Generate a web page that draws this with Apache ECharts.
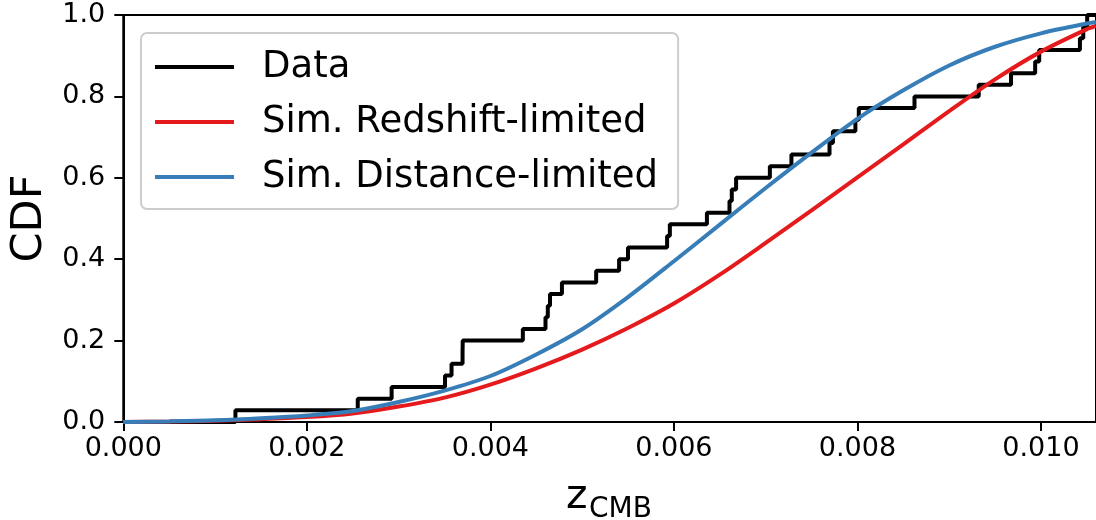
<!DOCTYPE html>
<html>
<head>
<meta charset="utf-8">
<script src="https://cdn.jsdelivr.net/npm/echarts@6/dist/echarts.min.js"></script>
<style>
  html, body { margin: 0; padding: 0; background: #fff; }
  #chart { width: 1096px; height: 520px; }
</style>
</head>
<body>
<div id="chart"></div>
<script>
// Observed redshifts (sorted), one step of 1/N each in the empirical CDF
const dataZ = [
  0.001222, 0.002555, 0.002924, 0.003506, 0.003577, 0.003697, 0.003699,
  0.004354, 0.004601, 0.004626, 0.004650, 0.004780, 0.005153, 0.005403,
  0.005500, 0.005926, 0.005956, 0.006360, 0.006606, 0.006631, 0.006678,
  0.007046, 0.007281, 0.007696, 0.007733, 0.007978, 0.008015, 0.008622,
  0.009322, 0.009674, 0.009937, 0.009981, 0.010425, 0.010461, 0.010504
];

// Simulated CDFs sampled on a common redshift grid
const simZ = [
  0, 0.0005, 0.001, 0.0015, 0.002, 0.0025, 0.003, 0.0035, 0.004, 0.0045,
  0.005, 0.0055, 0.006, 0.0065, 0.007, 0.0075, 0.008, 0.0085, 0.009,
  0.0095, 0.010, 0.0105, 0.0106
];
const simRedshift = [
  0, 0.001, 0.003, 0.007, 0.012, 0.021, 0.038, 0.060, 0.092, 0.132,
  0.178, 0.231, 0.291, 0.362, 0.440, 0.520, 0.601, 0.682, 0.764,
  0.842, 0.910, 0.965, 0.973
];
const simDistance = [
  0, 0.0015, 0.004, 0.009, 0.016, 0.027, 0.049, 0.077, 0.113, 0.166,
  0.228, 0.307, 0.395, 0.485, 0.575, 0.662, 0.745, 0.815, 0.876,
  0.922, 0.955, 0.979, 0.982
];

const xTicks = [0, 0.002, 0.004, 0.006, 0.008, 0.010];
const yTicks = [0, 0.2, 0.4, 0.6, 0.8, 1.0];
const X_MAX = 0.0106;

const FONT = 'DejaVu Sans';
const COLORS = { data: '#000000', red: '#e41a1c', blue: '#377eb8' };

// Empirical CDF as step points
const n = dataZ.length;
const ecdf = [[0, 0]];
dataZ.forEach((z, i) => ecdf.push([z, (i + 1) / n]));
ecdf.push([X_MAX, 1]);

const pairs = (xs, ys) => xs.map((x, i) => [x, ys[i]]);

const chart = echarts.init(document.getElementById('chart'), null, { renderer: 'canvas' });

const isTick = (v, list) => list.some(t => Math.abs(t - v) < 1e-9);

chart.setOption({
  animation: false,
  backgroundColor: '#ffffff',
  grid: {
    left: 123.3,
    top: 15,
    width: X_MAX * 92250,
    height: 407,
    show: true,
    borderColor: '#000',
    borderWidth: 2,
    containLabel: false
  },
  legend: {
    left: 141,
    top: 33,
    orient: 'vertical',
    icon: 'rect',
    itemWidth: 79,
    itemHeight: 4,
    itemGap: 15,
    padding: [14, 20, 12, 14],
    backgroundColor: 'rgba(255,255,255,0.85)',
    borderColor: '#cccccc',
    borderWidth: 2,
    borderRadius: 6,
    textStyle: {
      fontFamily: FONT,
      fontSize: 37,
      lineHeight: 40,
      color: '#000',
      padding: [0, 0, 0, 23]
    },
    data: ['Data', 'Sim. Redshift-limited', 'Sim. Distance-limited']
  },
  xAxis: {
    type: 'value',
    min: 0,
    max: X_MAX,
    interval: 0.002,
    splitLine: { show: false },
    axisLine: { show: true, lineStyle: { color: '#000', width: 2 } },
    axisTick: { show: true, length: 9, lineStyle: { color: '#000', width: 2 } },
    axisLabel: {
      show: true,
      margin: 13,
      fontFamily: FONT,
      fontSize: 27,
      color: '#000',
      showMaxLabel: false,
      formatter: v => isTick(v, xTicks) ? v.toFixed(3) : ''
    }
  },
  yAxis: {
    type: 'value',
    min: 0,
    max: 1,
    interval: 0.2,
    name: 'CDF',
    nameLocation: 'middle',
    nameGap: 70,
    nameTextStyle: { fontFamily: FONT, fontSize: 43, color: '#000' },
    splitLine: { show: false },
    axisLine: { show: true, lineStyle: { color: '#000', width: 2 } },
    axisTick: { show: true, length: 9, lineStyle: { color: '#000', width: 2 } },
    axisLabel: {
      margin: 18,
      fontFamily: FONT,
      fontSize: 27,
      color: '#000',
      formatter: v => isTick(v, yTicks) ? v.toFixed(1) : ''
    }
  },
  graphic: [
    {
      type: 'text',
      left: 566,
      top: 477,
      style: { text: 'z', fontFamily: FONT, fontSize: 41, fill: '#000' }
    },
    {
      type: 'text',
      left: 589,
      top: 496,
      style: { text: 'CMB', fontFamily: FONT, fontSize: 28, fill: '#000' }
    }
  ],
  series: [
    {
      name: 'Data',
      type: 'line',
      step: 'end',
      data: ecdf,
      showSymbol: false,
      symbol: 'none',
      color: COLORS.data,
      lineStyle: { color: COLORS.data, width: 4 },
      z: 3
    },
    {
      name: 'Sim. Redshift-limited',
      type: 'line',
      smooth: 0.3,
      data: pairs(simZ, simRedshift),
      showSymbol: false,
      symbol: 'none',
      color: COLORS.red,
      lineStyle: { color: COLORS.red, width: 4 },
      z: 4
    },
    {
      name: 'Sim. Distance-limited',
      type: 'line',
      smooth: 0.3,
      data: pairs(simZ, simDistance),
      showSymbol: false,
      symbol: 'none',
      color: COLORS.blue,
      lineStyle: { color: COLORS.blue, width: 4 },
      z: 5
    }
  ]
});
</script>
</body>
</html>
